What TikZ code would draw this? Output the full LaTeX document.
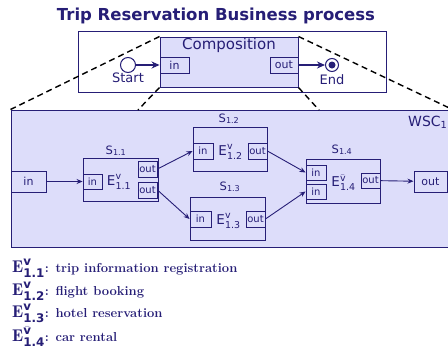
\documentclass[tikz,border=0pt]{standalone}
\usepackage{amsmath}
\usepackage{fontspec}
\setsansfont{DejaVu Sans}
\usetikzlibrary{arrows.meta}
\definecolor{navy}{RGB}{38,30,118}
\definecolor{lav}{RGB}{221,221,250}

\begin{document}
\begin{tikzpicture}
  [x=1pt, y=-1pt,
   every node/.style={text=navy, inner sep=0pt, font=\sffamily\fontsize{11}{13}\selectfont},
   box/.style={draw=navy, line width=1pt, rectangle},
   port/.style={box, line width=0.9pt, minimum height=16pt, font=\sffamily\fontsize{10}{12}\selectfont},
   elabel/.style={font=\sffamily\fontsize{13.5}{15}\selectfont},
   slabel/.style={anchor=base, font=\sffamily\fontsize{11.5}{13}\selectfont},
   legend/.style={anchor=base west, font=\rmfamily\bfseries\fontsize{13}{15}\selectfont},
   flow/.style={draw=navy, line width=0.9pt, -{Stealth[length=6pt,width=5pt]}},
   bigflow/.style={draw=navy, line width=1.8pt, -{Stealth[length=8pt,width=7pt]}},
   zoomline/.style={black, dash pattern=on 6pt off 4pt, line width=1.4pt}]
  \useasboundingbox (0,0) rectangle (448,351);
  \node (title) at (216,20) [anchor=base, font=\sffamily\bfseries\fontsize{16.5}{19}\selectfont] {Trip Reservation Business process};
  \node (process) at (232,61.5) [box, fill=white, minimum width=308pt, minimum height=61pt] {};
  \node (wsc) at (231.5,178.5) [box, fill=lav, minimum width=441pt, minimum height=137pt] {};
  \node (comp) at (229,62) [box, fill=lav, minimum width=138pt, minimum height=50pt] {};
  \coordinate (wscl) at (138,110);
  \coordinate (wscr) at (319,110);
  \draw[zoomline] (comp.north west) -- (wsc.north west);
  \draw[zoomline] (comp.south west) -- (wscl);
  \draw[zoomline] (comp.south east) -- (wscr);
  \draw[zoomline] (comp.north east) -- (wsc.north east);
  \node (comptxt) at (229,45) [font=\sffamily\fontsize{15}{17}\selectfont] {Composition};
  \node (compin) at (174.5,65) [port, minimum width=29pt, font=\sffamily\fontsize{11}{13}\selectfont] {in};
  \node (compout) at (284,65) [port, minimum width=28pt, font=\sffamily\fontsize{11}{13}\selectfont] {out};
  \node (start) at (128,65) [circle, draw=navy, line width=1pt, fill=white, minimum size=15pt] {};
  \node (starttxt) at (128,78) [font=\sffamily\fontsize{13}{15}\selectfont] {Start};
  \node (end) at (332,65) [circle, draw=navy, line width=1pt, fill=white, minimum size=13pt] {};
  \node (enddot) at (end) [circle, fill=navy, minimum size=7pt] {};
  \node (endtxt) at (332,80) [font=\sffamily\fontsize{13}{15}\selectfont] {End};
  \draw[bigflow] (start) -- (compin);
  \draw[bigflow] (compout) -- (end);
  \node (wsclabel) at (408,126) [anchor=base west, font=\sffamily\fontsize{14}{16}\selectfont] {WSC\textsubscript{1}};
  \node (wscin) at (28.5,181.5) [box, minimum width=35pt, minimum height=21pt] {in};
  \node (wscout) at (430.5,181.5) [box, minimum width=33pt, minimum height=21pt] {out};
  \node (s11) at (120.5,179.5) [box, minimum width=75pt, minimum height=43pt] {};
  \node (s11lab) at (116,154) [slabel] {S\textsubscript{1.1}};
  \node (s11in) at (92.5,181.5) [port, minimum width=19pt, minimum height=15pt] {in};
  \node (e11) at (119,182) [elabel] {E$^{\text{v}}_{\text{1.1}}$};
  \node (s11outa) at (147.5,169) [port, minimum width=19pt] {out};
  \node (s11outb) at (147.5,190) [port, minimum width=19pt] {out};
  \node (s12) at (230,149) [box, minimum width=74pt, minimum height=44pt] {};
  \node (s12lab) at (229,122) [slabel] {S\textsubscript{1.2}};
  \node (s12in) at (203,151) [port, minimum width=20pt] {in};
  \node (e12) at (230.5,152) [elabel] {E$^{\text{v}}_{\text{1.2}}$};
  \node (s12out) at (257.5,151) [port, minimum width=19pt] {out};
  \node (s13) at (227.5,218.5) [box, minimum width=75pt, minimum height=43pt] {};
  \node (s13lab) at (230,190) [slabel] {S\textsubscript{1.3}};
  \node (s13in) at (200.5,219) [port, minimum width=21pt] {in};
  \node (e13) at (228.5,221) [elabel] {E$^{\text{v}}_{\text{1.3}}$};
  \node (s13out) at (255.5,219) [port, minimum width=19pt] {out};
  \node (s14) at (343,181) [box, minimum width=74pt, minimum height=44pt] {};
  \node (s14lab) at (342,153) [slabel] {S\textsubscript{1.4}};
  \node (s14ina) at (316,172.5) [port, minimum width=20pt, minimum height=15pt] {in};
  \node (s14inb) at (316,191.5) [port, minimum width=20pt, minimum height=15pt] {in};
  \node (e14) at (343.5,183) [elabel] {E$^{\bar{\text{v}}}_{\text{1.4}}$};
  \node (s14out) at (370.5,180.5) [port, minimum width=19pt, minimum height=15pt] {out};
  \draw[flow] (wscin) -- (s11in);
  \draw[flow] (s11outa.east) -- (s12in.west);
  \draw[flow] (s11outb.east) -- (s13in.west);
  \draw[flow] (s12out.east) -- (s14ina.west);
  \draw[flow] (s13out.east) -- (s14inb.west);
  \draw[flow] (s14out) -- (wscout);
  \node (leg11) at (12,272) [legend] {{\fontsize{17}{20}\selectfont$\mathbf{E}^{\text{\sffamily v}}_{\text{\sffamily\bfseries 1.1}}$}: trip information registration};
  \node (leg12) at (12,295) [legend] {{\fontsize{17}{20}\selectfont$\mathbf{E}^{\text{\sffamily v}}_{\text{\sffamily\bfseries 1.2}}$}: flight booking};
  \node (leg13) at (12,317) [legend] {{\fontsize{17}{20}\selectfont$\mathbf{E}^{\text{\sffamily v}}_{\text{\sffamily\bfseries 1.3}}$}: hotel reservation};
  \node (leg14) at (12,341) [legend] {{\fontsize{17}{20}\selectfont$\mathbf{E}^{\bar{\text{\sffamily v}}}_{\text{\sffamily\bfseries 1.4}}$}: car rental};
\end{tikzpicture}
\end{document}
